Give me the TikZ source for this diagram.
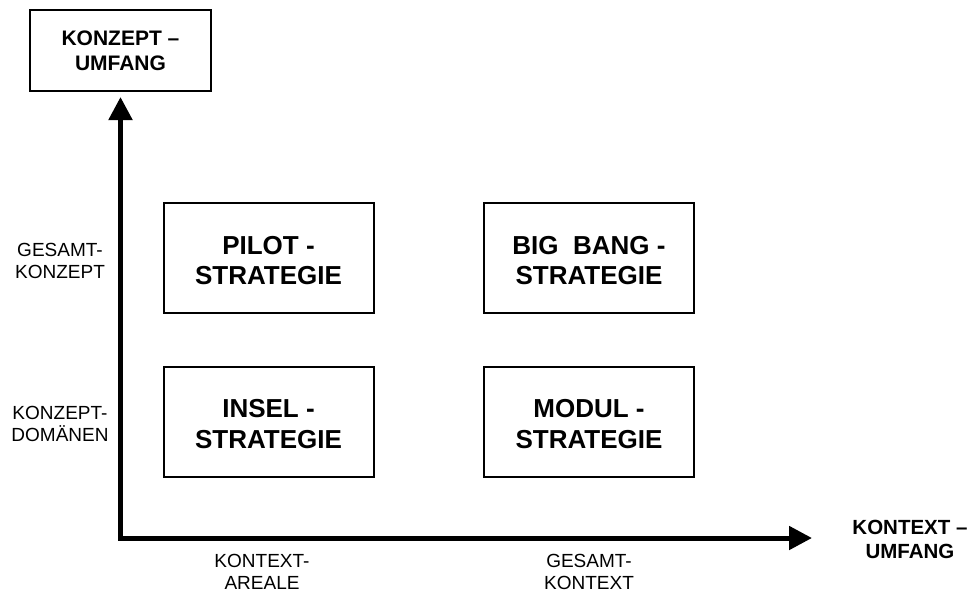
\documentclass[tikz,border=0pt]{standalone}
\usepackage{fontspec}
\setmainfont{Liberation Sans}
\usetikzlibrary{arrows.meta}
\tikzset{
  quadbox/.style={draw, line width=2pt, minimum width=210pt, minimum height=110pt, inner sep=0pt},
  quadtext/.style={align=center, inner sep=0pt, yshift=-2.5pt, font=\bfseries\fontsize{26}{30.5}\selectfont},
  headbox/.style={draw, line width=2pt, minimum width=181pt, minimum height=81pt, inner sep=0pt, align=center, font=\bfseries\fontsize{21}{25}\selectfont},
  axislabel/.style={align=center, inner sep=0pt, font=\fontsize{19}{22.5}\selectfont},
  headlabel/.style={align=center, inner sep=0pt, font=\bfseries\fontsize{20.5}{24.5}\selectfont},
  axis/.style={line width=5pt, line join=miter, {Triangle[length=23pt,width=23pt]}-{Triangle[length=23pt,width=23pt]}}
}
\begin{document}
\begin{tikzpicture}[x=1pt,y=-1pt]
\useasboundingbox (0,0) rectangle (968,594);
% axes
\coordinate (ytip) at (120.5,97);
\coordinate (origin) at (120.5,538);
\coordinate (xtip) at (812,538);
\draw[axis] (ytip) -- (origin) -- (xtip);
% header boxes / labels
\node[headbox] (konzeptumfang) at (120.5,50.5) {KONZEPT –\\UMFANG};
\node[headlabel] (kontextumfang) at (910,539.5) {KONTEXT –\\UMFANG};
% quadrant boxes
\node[quadbox, label={[quadtext]center:{PILOT -\\STRATEGIE}}] (pilot) at (268.5,258) {};
\node[quadbox, label={[quadtext]center:{BIG\ \ BANG -\\STRATEGIE}}] (bigbang) at (589,258) {};
\node[quadbox, label={[quadtext]center:{INSEL -\\STRATEGIE}}] (insel) at (268.5,421.5) {};
\node[quadbox, label={[quadtext]center:{MODUL -\\STRATEGIE}}] (modul) at (589,421.5) {};
% axis tick labels
\node[axislabel] (gesamtkonzept) at (60,261) {GESAMT-\\KONZEPT};
\node[axislabel] (konzeptdomaenen) at (60,424) {KONZEPT-\\DOMÄNEN};
\node[axislabel] (kontextareale) at (262,572) {KONTEXT-\\AREALE};
\node[axislabel] (gesamtkontext) at (589,572) {GESAMT-\\KONTEXT};
\end{tikzpicture}
\end{document}
